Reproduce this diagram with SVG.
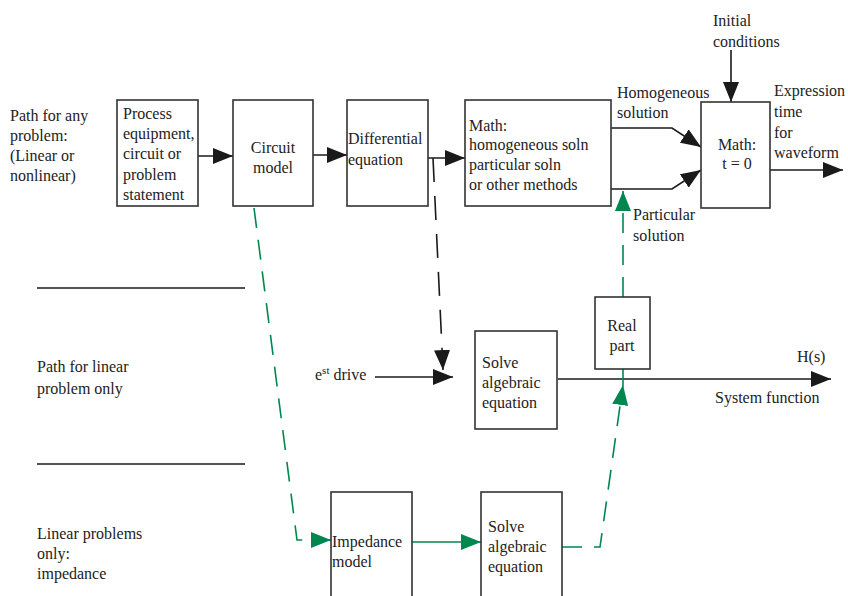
<svg xmlns="http://www.w3.org/2000/svg" width="848" height="596" viewBox="0 0 848 596">
<style>
text{font-family:'Liberation Serif','DejaVu Serif',serif;font-size:16px;fill:#222}
.box{fill:#fff;stroke:#333;stroke-width:1.6}
.k{fill:none;stroke:#1a1a1a;stroke-width:1.6}
.kd{fill:none;stroke:#1a1a1a;stroke-width:1.6;stroke-dasharray:24 14}
.g{fill:none;stroke:#00874f;stroke-width:1.6}
.gd{fill:none;stroke:#00874f;stroke-width:1.6;stroke-dasharray:20 12}
.sep{stroke:#1a1a1a;stroke-width:1.6}
.c{text-anchor:middle}
</style>
<defs>
<marker id="ak" markerUnits="userSpaceOnUse" markerWidth="20" markerHeight="16" refX="20" refY="8" orient="auto"><path d="M0,0 L20,8 L0,16 z" fill="#1a1a1a"/></marker>
<marker id="ag" markerUnits="userSpaceOnUse" markerWidth="20" markerHeight="16" refX="20" refY="8" orient="auto"><path d="M0,0 L20,8 L0,16 z" fill="#00874f"/></marker>
</defs>

<g id="labels" font-family="Liberation Serif, DejaVu Serif, serif">
<text x="10" y="121">Path for any</text>
<text x="10" y="141">problem:</text>
<text x="10" y="161">(Linear or</text>
<text x="10" y="181">nonlinear)</text>
<line class="sep" x1="37" y1="288" x2="245" y2="288"/>
<text x="37" y="372">Path for linear</text>
<text x="37" y="394">problem only</text>
<line class="sep" x1="37" y1="464" x2="245" y2="464"/>
<text x="37" y="539">Linear problems</text>
<text x="37" y="559">only:</text>
<text x="37" y="579">impedance</text>
<text x="713" y="26">Initial</text>
<text x="713" y="47">conditions</text>
<text x="617" y="98">Homogeneous</text>
<text x="617" y="118">solution</text>
<text x="633" y="220">Particular</text>
<text x="633" y="241">solution</text>
<text x="774" y="96">Expression</text>
<text x="774" y="117">time</text>
<text x="774" y="138">for</text>
<text x="774" y="158">waveform</text>
<text x="315" y="380">e<tspan font-size="11" dy="-6">st</tspan><tspan dy="6"> drive</tspan></text>
<text x="797" y="362">H(s)</text>
<text x="715" y="403">System function</text>
</g>

<g id="connectors">
<path class="k" d="M197,156 H233" marker-end="url(#ak)"/>
<path class="k" d="M313,155 H347" marker-end="url(#ak)"/>
<path class="k" d="M428,158 H465" marker-end="url(#ak)"/>
<path class="kd" d="M433,158 L443,370" marker-end="url(#ak)"/>
<path class="k" d="M611,128 H672 L701,147" marker-end="url(#ak)"/>
<path class="k" d="M611,189 H672 L701,170" marker-end="url(#ak)"/>
<path class="k" d="M731,50 V102" marker-end="url(#ak)"/>
<path class="k" d="M770,170 H843" marker-end="url(#ak)"/>
<path class="k" d="M375,377 H453" marker-end="url(#ak)"/>
<path class="k" d="M558,379 H831" marker-end="url(#ak)"/>
<path class="gd" d="M254,208 L297,540 H331" marker-end="url(#ag)"/>
<path class="g" d="M412,542 H481" marker-end="url(#ag)"/>
<path class="gd" d="M562,547 H600 L623,385" marker-end="url(#ag)"/>
<path class="g" d="M623,369 V385"/>
<path class="gd" d="M623,297 V191" marker-end="url(#ag)"/>
</g>

<g id="process">
<rect class="box" x="117" y="100" width="81" height="106"/>
<text x="123" y="119">Process</text>
<text x="123" y="139">equipment,</text>
<text x="123" y="159">circuit or</text>
<text x="123" y="180">problem</text>
<text x="123" y="200">statement</text>
</g>
<g id="circuit">
<rect class="box" x="233" y="100" width="80" height="106"/>
<text class="c" x="273" y="153">Circuit</text>
<text class="c" x="273" y="173">model</text>
</g>
<g id="diffeq">
<rect class="box" x="347" y="100" width="81" height="106"/>
<text x="348" y="144">Differential</text>
<text x="348" y="165">equation</text>
</g>
<g id="math">
<rect class="box" x="465" y="100" width="146" height="106"/>
<text x="469" y="131">Math:</text>
<text x="469" y="150">homogeneous soln</text>
<text x="469" y="170">particular soln</text>
<text x="469" y="190">or other methods</text>
</g>
<g id="math-t0">
<rect class="box" x="701" y="102" width="69" height="106"/>
<text class="c" x="737" y="150">Math:</text>
<text class="c" x="737" y="169">t = 0</text>
</g>
<g id="solve-mid">
<rect class="box" x="475" y="331" width="82" height="98"/>
<text x="482" y="368">Solve</text>
<text x="482" y="388">algebraic</text>
<text x="482" y="408">equation</text>
</g>
<g id="realpart">
<rect class="box" x="595" y="297" width="55" height="72"/>
<text class="c" x="622" y="331">Real</text>
<text class="c" x="622" y="351">part</text>
</g>
<g id="impedance">
<rect class="box" x="331" y="492" width="81" height="110"/>
<text x="332" y="547">Impedance</text>
<text x="332" y="567">model</text>
</g>
<g id="solve-bot">
<rect class="box" x="481" y="492" width="81" height="110"/>
<text x="488" y="532">Solve</text>
<text x="488" y="552">algebraic</text>
<text x="488" y="572">equation</text>
</g>
</svg>
